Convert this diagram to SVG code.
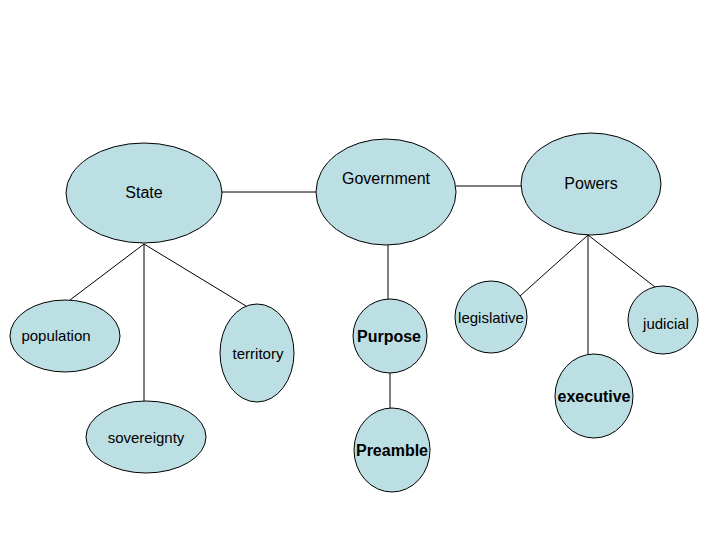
<svg xmlns="http://www.w3.org/2000/svg" width="720" height="540" viewBox="0 0 720 540">
<style>
ellipse{fill:#bcdfe3;stroke:#000;stroke-width:1}
line{stroke:#000;stroke-width:1}
text{font-family:"Liberation Sans",Arial,sans-serif;font-size:15px;text-anchor:middle;fill:#000}
.b{font-weight:bold;font-size:16px}
</style>
<rect width="720" height="540" fill="#fff"/>
<g id="connectors">
<line x1="222" y1="192" x2="316" y2="192"/>
<line x1="456" y1="186" x2="522" y2="186"/>
<line x1="144" y1="244" x2="70" y2="300"/>
<line x1="144" y1="244" x2="144" y2="401"/>
<line x1="144" y1="244" x2="246" y2="306"/>
<line x1="388" y1="245" x2="388" y2="299"/>
<line x1="390" y1="373" x2="390" y2="408"/>
<line x1="588" y1="235" x2="520" y2="296"/>
<line x1="588" y1="235" x2="588" y2="354"/>
<line x1="588" y1="235" x2="655" y2="287"/>
</g>
<g id="state"><ellipse cx="144" cy="193" rx="78" ry="50"/><text x="144" y="198" class="b" style="font-weight:normal">State</text></g>
<g id="government"><ellipse cx="386" cy="192" rx="70" ry="53"/><text x="386" y="184" class="b" style="font-weight:normal">Government</text></g>
<g id="powers"><ellipse cx="591" cy="184" rx="70" ry="51"/><text x="591" y="189" class="b" style="font-weight:normal">Powers</text></g>
<g id="population"><ellipse cx="65" cy="336" rx="55" ry="36"/><text x="56" y="341">population</text></g>
<g id="territory"><ellipse cx="257" cy="353" rx="37" ry="49"/><text x="258" y="359">territory</text></g>
<g id="sovereignty"><ellipse cx="146" cy="437" rx="60" ry="36"/><text x="146" y="443">sovereignty</text></g>
<g id="purpose"><ellipse cx="390" cy="336" rx="37" ry="37"/><text x="389" y="342" class="b">Purpose</text></g>
<g id="preamble"><ellipse cx="392" cy="450" rx="38" ry="42"/><text x="392" y="456" class="b">Preamble</text></g>
<g id="legislative"><ellipse cx="491" cy="317" rx="36" ry="36"/><text x="491" y="323">legislative</text></g>
<g id="judicial"><ellipse cx="663" cy="320" rx="35" ry="34"/><text x="666" y="329">judicial</text></g>
<g id="executive"><ellipse cx="594" cy="396" rx="39" ry="42"/><text x="594" y="402" class="b">executive</text></g>
</svg>
